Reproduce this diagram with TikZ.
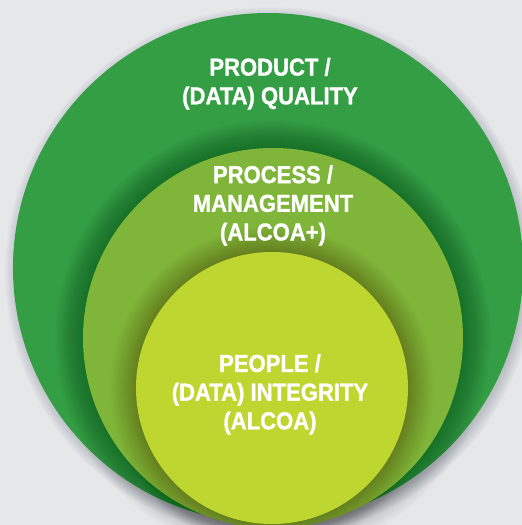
\documentclass[tikz,border=0pt]{standalone}
\usepackage{fontspec}
\newfontfamily\labelfont{Liberation Sans}[FakeStretch=0.9,BoldFeatures={FakeBold=1.2}]
\definecolor{bggray}{HTML}{E6E7E9}
\definecolor{outergreen}{HTML}{339E43}
\definecolor{midgreen}{HTML}{7FB539}
\definecolor{innergreen}{HTML}{BED730}
\definecolor{shadegray}{HTML}{3A4560}
\tikzset{
  ringlabel/.style={text=white,align=center,anchor=base,
    font=\labelfont\bfseries\fontsize{24.5}{28.7}\selectfont},
}
\begin{document}
\begin{tikzpicture}[x=1pt,y=-1pt]
\useasboundingbox (0,0) rectangle (522,525);
\fill[bggray] (0,0) rectangle (522,525);
\begin{scope}
\clip (0,0) rectangle (522,525);
% product ring
\coordinate (outer) at (268,268);
\foreach \k in {1,...,12}
  \fill[shadegray,opacity=0.018] ([shift={(2,4)}]outer) circle[radius=253+\k];
\fill[outergreen] (outer) circle[radius=255];
% process ring
\coordinate (middle) at (273,338);
\foreach \k in {1,...,28}
  \fill[black,opacity=0.009] (middle) circle[radius=190+\k];
\fill[midgreen] (middle) circle[radius=190];
% people ring
\coordinate (inner) at (272,388);
\foreach \k in {1,...,26}
  \fill[black,opacity=0.009] (inner) circle[radius=136+\k];
\fill[innergreen] (inner) circle[radius=136];
\end{scope}
\node[ringlabel] (product) at (270,104.3) {PRODUCT /\\(DATA) QUALITY};
\node[ringlabel] (process) at (273,240.5) {PROCESS /\\MANAGEMENT\\(ALCOA+)};
\node[ringlabel] (people) at (270,429.3) {PEOPLE /\\(DATA) INTEGRITY\\(ALCOA)};
\end{tikzpicture}
\end{document}
